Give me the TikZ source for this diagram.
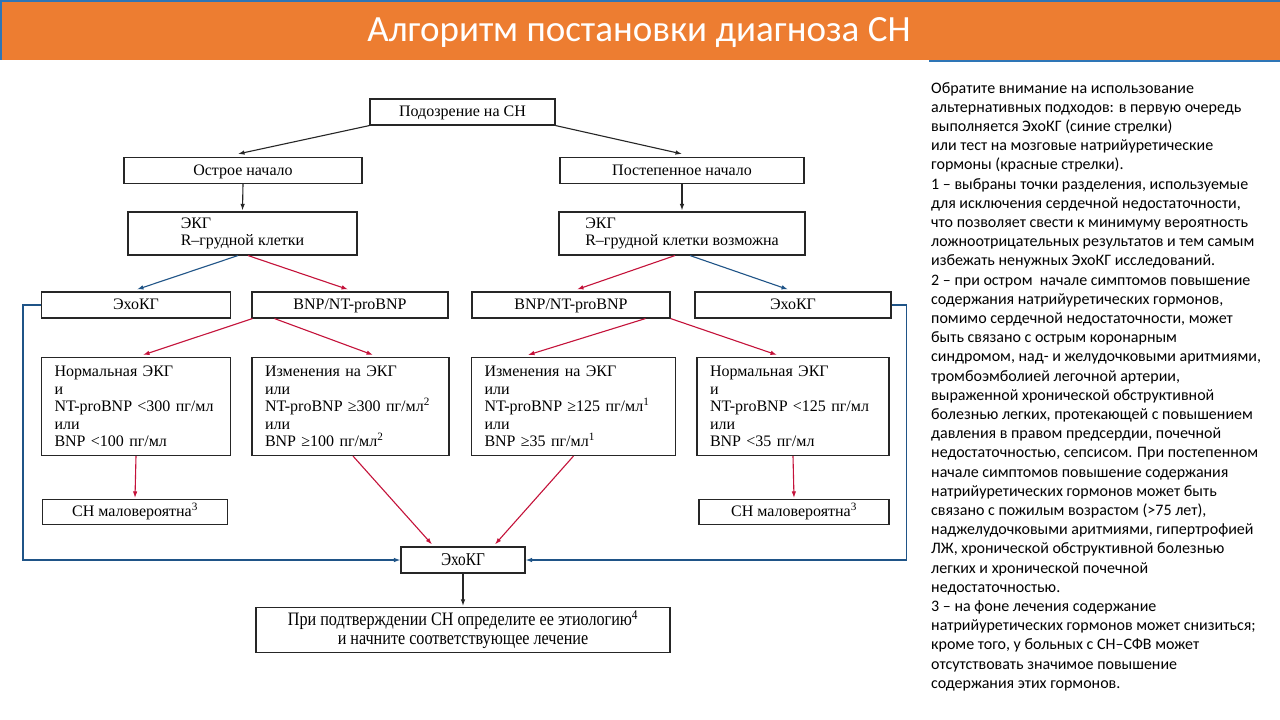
\documentclass[tikz,border=0pt]{standalone}
\usepackage{fontspec}
\setmainfont{Liberation Serif}
\newfontfamily\calfont{Carlito}
\newfontfamily\condserif[FakeStretch=0.85]{Liberation Serif}
\usetikzlibrary{arrows.meta}
\definecolor{bannerorange}{RGB}{237,125,49}
\definecolor{hdrblue}{RGB}{46,117,182}
\definecolor{ared}{RGB}{196,18,58}
\definecolor{ablue}{RGB}{31,84,135}
\tikzset{
  box/.style={draw=black!85, line width=1.1pt, inner sep=0pt, align=center,
    font=\fontsize{16}{17.5}\selectfont},
  one/.style={text height=12.5pt, text depth=3pt},
  wh/.style 2 args={minimum width=#1, minimum height=#2},
  lbox/.style 2 args={box, align=left, inner xsep=13pt, text width=#1-26pt, minimum height=#2},
  arr/.style={-{Latex[length=6.5pt,width=4.5pt]}, line width=1.1pt},
  karr/.style={arr, draw=black!85},
  rarr/.style={arr, draw=ared},
  barr/.style={arr, draw=ablue}
}
\begin{document}
\begin{tikzpicture}[x=1pt,y=-1pt]
\useasboundingbox (0,0) rectangle (1280,720);
\fill[white] (0,0) rectangle (1280,720);
% banner
\fill[bannerorange] (0,0) rectangle (1280,60);
\draw[hdrblue, line width=1.5pt] (0,0.75) -- (1280,0.75);
\draw[hdrblue, line width=1.5pt] (0.75,0) -- (0.75,60);
\draw[hdrblue, line width=1.5pt] (929,60.75) -- (1280,60.75);
\node[text=white, font=\calfont\fontsize{37}{40}\selectfont, inner sep=0pt] (title) at (639,33) {Алгоритм постановки диагноза СН};

% boxes
\node[box, one, wh={185pt}{26pt}] (susp) at (462.5,112) {Подозрение на СН};
\node[box, one, wh={238pt}{26pt}] (acute) at (243,170.5) {Острое начало};
\node[box, one, wh={244pt}{26pt}] (grad) at (682,170.5) {Постепенное начало};
\node[box, align=left, wh={229pt}{43pt}] (ecgL) at (242.5,233.5) {ЭКГ\\R–грудной клетки};
\node[box, align=left, wh={246pt}{43pt}] (ecgR) at (682,233.5) {ЭКГ\\R–грудной клетки возможна};
\node[box, one, wh={189pt}{26pt}] (echoL) at (136,305) {ЭхоКГ};
\node[box, one, wh={196pt}{26pt}] (bnpL) at (350,305) {BNP/NT-proBNP};
\node[box, one, wh={198pt}{26pt}] (bnpR) at (571,305) {BNP/NT-proBNP};
\node[box, one, wh={196pt}{26pt}] (echoR) at (793,305) {ЭхоКГ};
\node[lbox={189pt}{98pt}] (normL) at (136,406.5) {Нормальная ЭКГ\\и\\NT-proBNP <300 пг/мл\\или\\BNP <100 пг/мл};
\node[lbox={197pt}{98pt}] (chL) at (350.5,406.5) {Изменения на ЭКГ\\или\\NT-proBNP ≥300 пг/мл\textsuperscript{2}\\или\\BNP ≥100 пг/мл\textsuperscript{2}};
\node[lbox={204pt}{98pt}] (chR) at (573.5,406.5) {Изменения на ЭКГ\\или\\NT-proBNP ≥125 пг/мл\textsuperscript{1}\\или\\BNP ≥35 пг/мл\textsuperscript{1}};
\node[lbox={192pt}{98pt}] (normR) at (793,406.5) {Нормальная ЭКГ\\и\\NT-proBNP <125 пг/мл\\или\\BNP <35 пг/мл};
\node[box, one, wh={185pt}{25pt}] (unlL) at (135,512) {СН маловероятна\textsuperscript{3}};
\node[box, one, wh={190pt}{25pt}] (unlR) at (794,512) {СН маловероятна\textsuperscript{3}};
\node[box, wh={124pt}{26pt}, text height=13pt, text depth=3pt, font=\condserif\fontsize{18}{19}\selectfont] (echoB) at (463,560) {ЭхоКГ};
\node[box, wh={414pt}{45pt}, font=\condserif\fontsize{19}{19}\selectfont] (final) at (463,630) {При подтверждении СН определите ее этиологию\textsuperscript{4}\\и начните соответствующее лечение};

% black arrows
\draw[karr] (susp.south west) -- ([xshift=-5pt,yshift=3pt]acute.north);
\draw[karr] (susp.south east) -- ([yshift=3pt]grad.north);
\draw[karr] (acute.south) -- ([yshift=1pt]ecgL.north);
\draw[karr] (grad.south) -- ([yshift=1pt]ecgR.north);
\draw[karr] (echoB.south) -- ([yshift=1pt]final.north);
% second level
\draw[barr] ([xshift=-4.5pt]ecgL.south) -- ([xshift=1pt,yshift=2pt]echoL.north);
\draw[rarr] ([xshift=5.5pt]ecgL.south) -- ([xshift=-2pt,yshift=2pt]bnpL.north);
\draw[rarr] ([xshift=-7pt]ecgR.south) -- ([xshift=6pt,yshift=2pt]bnpR.north);
\draw[barr] ([xshift=8pt]ecgR.south) -- ([xshift=-5pt,yshift=2pt]echoR.north);
% third level
\draw[rarr] ([xshift=1pt]bnpL.south west) -- ([xshift=7pt,yshift=2pt]normL.north);
\draw[rarr] ([xshift=23pt]bnpL.south west) -- ([xshift=22.5pt,yshift=2pt]chL.north);
\draw[rarr] ([xshift=-25pt]bnpR.south east) -- ([xshift=-45.5pt,yshift=2pt]chR.north);
\draw[rarr] (bnpR.south east) -- ([xshift=-16pt,yshift=2pt]normR.north);
% to unlikely
\draw[rarr] (normL.south) -- ([yshift=1pt]unlL.north);
\draw[rarr] (normR.south) -- ([yshift=1pt]unlR.north);
% to bottom echo
\draw[rarr] ([xshift=2.5pt]chL.south) -- ([xshift=-31pt,yshift=2pt]echoB.north);
\draw[rarr] (chR.south) -- ([xshift=32pt,yshift=2pt]echoB.north);
% blue routes
\draw[barr] (echoL.west) -- ++(-18,0) |- (echoB.west);
\draw[barr] (echoR.east) -- ++(15,0) |- (echoB.east);

% notes
\node[anchor=north west, inner sep=0pt, align=left, font=\calfont\fontsize{16}{19.2}\selectfont] (notes) at (931,82) {Обратите внимание на использование\\
альтернативных подходов: в первую очередь\\
выполняется ЭхоКГ (синие стрелки)\\
или тест на мозговые натрийуретические\\
гормоны (красные стрелки).\\
1 – выбраны точки разделения, используемые\\
для исключения сердечной недостаточности,\\
что позволяет свести к минимуму вероятность\\
ложноотрицательных результатов и тем самым\\
избежать ненужных ЭхоКГ исследований.\\
2 – при остром\ \ начале симптомов повышение\\
содержания натрийуретических гормонов,\\
помимо сердечной недостаточности, может\\
быть связано с острым коронарным\\
синдромом, над- и желудочковыми аритмиями,\\
тромбоэмболией легочной артерии,\\
выраженной хронической обструктивной\\
болезнью легких, протекающей с повышением\\
давления в правом предсердии, почечной\\
недостаточностью, сепсисом. При постепенном\\
начале симптомов повышение содержания\\
натрийуретических гормонов может быть\\
связано с пожилым возрастом (>75 лет),\\
наджелудочковыми аритмиями, гипертрофией\\
ЛЖ, хронической обструктивной болезнью\\
легких и хронической почечной\\
недостаточностью.\\
3 – на фоне лечения содержание\\
натрийуретических гормонов может снизиться;\\
кроме того, у больных с СН–СФВ может\\
отсутствовать значимое повышение\\
содержания этих гормонов.};
\end{tikzpicture}
\end{document}
